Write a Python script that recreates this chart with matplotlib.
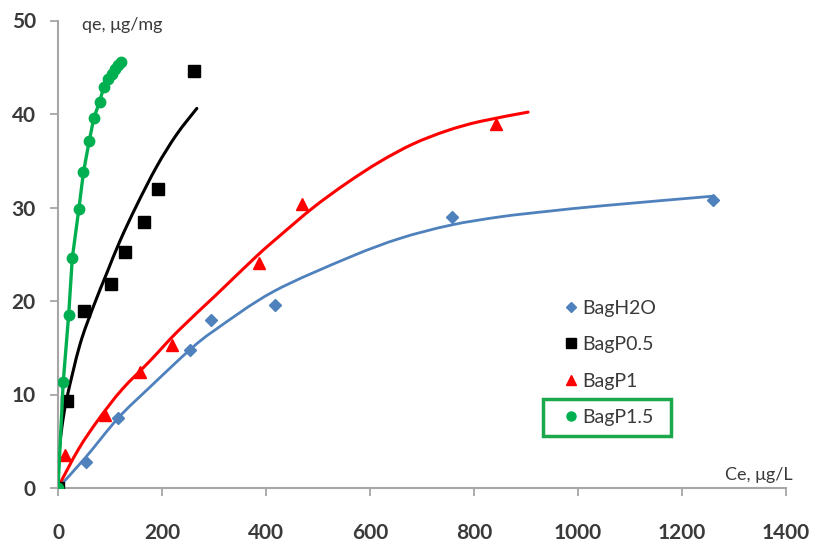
import matplotlib
matplotlib.use("Agg")
import matplotlib.pyplot as plt
from matplotlib.lines import Line2D
from matplotlib.patches import Rectangle, PathPatch
from matplotlib.path import Path

plt.rcParams['font.family'] = ['Lato', 'DejaVu Sans']

# ---- data ----
blue_x = [0, 53, 116, 254, 295, 418, 757, 1260]
blue_y = [0, 2.8, 7.45, 14.8, 18.0, 19.6, 29.0, 30.8]
blue_fit_x = [0, 52, 116, 177, 254, 302, 414, 561.5, 658, 754, 850, 943, 1050, 1257]
blue_fit_y = [0, 3.2, 7.5, 10.8, 14.8, 16.9, 21.0, 24.7, 26.7, 28.1, 29.0, 29.6, 30.2, 31.2]

black_x = [0, 17, 50, 102, 129, 165, 193, 262]
black_y = [0, 9.3, 18.9, 21.8, 25.2, 28.5, 32.0, 44.6]
black_fit_x = [0, 2, 7, 17, 42, 68, 94, 119, 151, 190, 228, 267]
black_fit_y = [0, 3.5, 6.3, 9.6, 15.3, 19.4, 23.0, 26.4, 30.2, 34.4, 37.8, 40.6]

red_x = [0, 13.5, 90, 158, 220, 387, 470, 842]
red_y = [0, 3.5, 7.8, 12.4, 15.3, 24.1, 30.4, 38.9]
red_fit_x = [0, 4, 40, 77.5, 122.5, 177, 231, 305, 382, 427, 491, 555, 619, 683, 747.5, 811.5, 904]
red_fit_y = [0, 0.5, 4.2, 7.3, 10.5, 13.6, 16.8, 20.7, 24.8, 27.0, 30.0, 32.6, 34.9, 36.8, 38.2, 39.2, 40.2]

green_x = [0, 10, 20.5, 27.5, 40, 49, 60, 69, 80, 88, 97, 103, 110, 116, 121]
green_y = [0, 11.3, 18.5, 24.6, 29.8, 33.8, 37.1, 39.6, 41.3, 42.9, 43.7, 44.3, 44.8, 45.2, 45.6]

labels = ['BagH2O', 'BagP0.5', 'BagP1', 'BagP1.5']
x_ticks = [0, 200, 400, 600, 800, 1000, 1200, 1400]
y_ticks = [0, 10, 20, 30, 40, 50]

C_BLUE = '#4F81BD'
C_BLACK = '#000000'
C_RED = '#FF0000'
C_GREEN = '#00B050'
C_TEXT = '#3a3a3a'
C_AXIS = '#a6a6a6'


def smooth_line(ax, xs, ys, **kw):
    """Draw a smoothed (Catmull-Rom style, like spreadsheet smoothing) curve through the given points."""
    pts = list(zip(xs, ys))
    n = len(pts)
    verts = [pts[0]]
    codes = [Path.MOVETO]
    for i in range(n - 1):
        p0 = pts[i - 1] if i > 0 else pts[i]
        p1 = pts[i]
        p2 = pts[i + 1]
        p3 = pts[i + 2] if i + 2 < n else pts[i + 1]
        c1 = (p1[0] + (p2[0] - p0[0]) / 6.0, p1[1] + (p2[1] - p0[1]) / 6.0)
        c2 = (p2[0] - (p3[0] - p1[0]) / 6.0, p2[1] - (p3[1] - p1[1]) / 6.0)
        verts += [c1, c2, p2]
        codes += [Path.CURVE4] * 3
    patch = PathPatch(Path(verts, codes), fill=False, transform=ax.transData,
                      capstyle='round', joinstyle='round', **kw)
    ax.add_patch(patch)


fig = plt.figure(figsize=(8.14, 5.42), dpi=100)
ax = fig.add_axes([58/814, 1-488/542, 728/814, 467.5/542])

smooth_line(ax, blue_fit_x, blue_fit_y, edgecolor=C_BLUE, lw=2.0, zorder=2)
ax.plot(blue_x, blue_y, ls='none', marker='D', ms=6.5, color=C_BLUE, zorder=3)

smooth_line(ax, red_fit_x, red_fit_y, edgecolor=C_RED, lw=2.2, zorder=2)
ax.plot(red_x, red_y, ls='none', marker='^', ms=8, color=C_RED, zorder=3)

smooth_line(ax, black_fit_x, black_fit_y, edgecolor=C_BLACK, lw=2.2, zorder=2)
ax.plot(black_x, black_y, ls='none', marker='s', ms=9, color=C_BLACK, zorder=3)

ax.plot(green_x, green_y, color=C_GREEN, lw=2.4, marker='o', ms=7.5, zorder=4)

ax.set_xlim(0, 1400)
ax.set_ylim(0, 50)
ax.set_xticks(x_ticks)
ax.set_yticks(y_ticks)
for s in ['top', 'right']:
    ax.spines[s].set_visible(False)
for s in ['left', 'bottom']:
    ax.spines[s].set_color(C_AXIS)
    ax.spines[s].set_linewidth(1.5)
ax.tick_params(axis='both', direction='out', length=6, width=1.3, color=C_AXIS,
               labelsize=15, labelcolor=C_TEXT)
ax.tick_params(axis='x', pad=19)
ax.tick_params(axis='y', pad=10)
for lab in ax.get_xticklabels() + ax.get_yticklabels():
    lab.set_fontweight('bold')

ax.text((82-58)/728, (488-25)/467.5, 'qe, μg/mg', transform=ax.transAxes,
        ha='left', va='center', fontsize=13, color=C_TEXT, clip_on=False)
ax.text((793-58)/728, (488-475)/467.5, 'Ce, μg/L', transform=ax.transAxes,
        ha='right', va='center', fontsize=13, color=C_TEXT, clip_on=False)

handles = [
    Line2D([], [], ls='none', marker='D', ms=5, color=C_BLUE),
    Line2D([], [], ls='none', marker='s', ms=7, color=C_BLACK),
    Line2D([], [], ls='none', marker='^', ms=6.5, color=C_RED),
    Line2D([], [], ls='none', marker='o', ms=6.5, color=C_GREEN),
]
leg = ax.legend(handles, labels, loc='upper left',
                bbox_to_anchor=(553/814, 1-290/542), bbox_transform=fig.transFigure,
                frameon=False, fontsize=14, handlelength=0.8, handletextpad=0.2,
                labelspacing=1.0, borderpad=0)
for t in leg.get_texts():
    t.set_color(C_TEXT)

fig.canvas.draw()
r = fig.canvas.get_renderer()
tb = leg.get_texts()[3].get_window_extent(r)
cy = (tb.y0 + tb.y1) / 2
x0 = tb.x0 - 39
x1 = tb.x1 + 17
h = 37
rect = Rectangle((x0, cy - h/2), x1 - x0, h, transform=None, fill=False,
                 edgecolor='#1aa84a', lw=2.5)
fig.patches.append(rect)

fig.savefig('out.png', dpi=100)
